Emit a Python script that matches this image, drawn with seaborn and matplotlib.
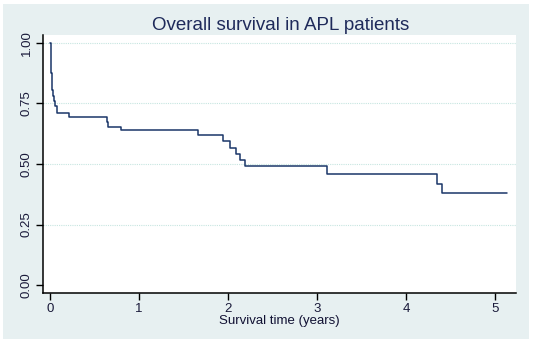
import matplotlib
matplotlib.use("Agg")
import matplotlib.pyplot as plt
import seaborn as sns
import pandas as pd
from matplotlib.patches import Rectangle

# Data (Kaplan-Meier step function)
time_years = [0.0, 0.008, 0.015, 0.026, 0.037, 0.048, 0.060, 0.079, 0.217, 0.644,
              0.655, 0.794, 1.660, 1.947, 2.026, 2.093, 2.138, 2.194, 3.116, 4.352,
              4.408, 5.140]
survival = [1.000, 0.957, 0.875, 0.806, 0.781, 0.762, 0.740, 0.712, 0.693, 0.674,
            0.654, 0.640, 0.620, 0.594, 0.565, 0.540, 0.515, 0.490, 0.457, 0.417,
            0.380, 0.380]
x_ticks = [0, 1, 2, 3, 4, 5]
y_ticks = [0.00, 0.25, 0.50, 0.75, 1.00]
y_tick_labels = ["0.00", "0.25", "0.50", "0.75", "1.00"]
title = "Overall survival in APL patients"
x_label = "Survival time (years)"

df = pd.DataFrame({"time": time_years, "surv": survival})

sns.set_theme(style="white")
plt.rcParams["font.family"] = ["Liberation Sans", "DejaVu Sans"]

W, H = 536, 346
fig = plt.figure(figsize=(W / 100, H / 100), dpi=100)
fig.patch.set_facecolor("white")
bg = "#e7f0f1"
rect = Rectangle((3 / W, 1 - 339 / H), (529 - 3) / W, (339 - 4) / H,
                 transform=fig.transFigure, facecolor=bg, edgecolor="none",
                 zorder=-10)
fig.add_artist(rect)

ax = fig.add_axes([42.5 / W, 1 - 293 / H, (516 - 42.5) / W, (293 - 35) / H])
ax.set_zorder(5)
ax.set_facecolor("white")

sns.lineplot(data=df, x="time", y="surv", ax=ax, drawstyle="steps-post",
             estimator=None, sort=False, color="#1a3668", linewidth=1.1)

ax.set_xlim(-0.084, 5.236)
ax.set_ylim(-0.033, 1.033)
ax.set_xticks(x_ticks)
ax.set_xticklabels([str(t) for t in x_ticks])
ax.set_yticks(y_ticks)
ax.set_yticklabels(y_tick_labels, rotation=90, va="center")

for y in y_ticks[1:]:
    ax.axhline(y, color="#c6e5e0", linewidth=0.8, linestyle=(0, (1, 1)), zorder=0)

for s in ["top", "right"]:
    ax.spines[s].set_visible(False)
for s in ["left", "bottom"]:
    ax.spines[s].set_color("black")
    ax.spines[s].set_linewidth(1.1)

ax.tick_params(axis="both", direction="out", length=5, width=1, color="black",
               labelsize=9.5, labelcolor="#1a1a3a", bottom=True, left=True, pad=2)

ax.set_xlabel(x_label, fontsize=9.5, color="#111133", labelpad=0)
ax.set_ylabel("")
fig.text(281 / W, 1 - 25 / H, title, ha="center", va="center", fontsize=13.5,
         color="#1e2a5a", zorder=6)

fig.savefig("out.png", dpi=100)
